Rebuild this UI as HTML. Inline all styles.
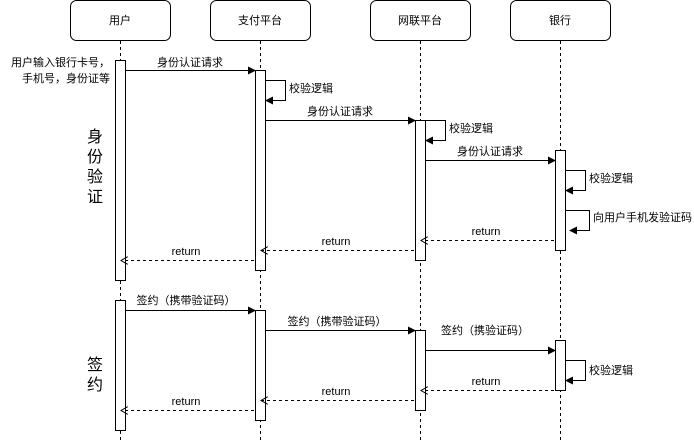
<!DOCTYPE html>
<html><head><meta charset="utf-8"><style>
html,body{margin:0;padding:0;background:#fff}
svg text{font-family:"Liberation Sans","Noto Sans CJK SC",sans-serif;font-size:11px;fill:#000}
</style></head><body>
<svg width="694" height="441" viewBox="0 0 694 441" xmlns="http://www.w3.org/2000/svg">
<defs>
<marker id="a" markerWidth="8" markerHeight="8" refX="7" refY="4" orient="auto" markerUnits="userSpaceOnUse"><path d="M0,0 L8,4 L0,8 Z" fill="#000"/></marker>
<marker id="o" markerWidth="8" markerHeight="8" refX="7" refY="4" orient="auto" markerUnits="userSpaceOnUse"><path d="M0,0 L7,4 L0,8" fill="none" stroke="#000"/></marker>
</defs>
<g fill="#fff" stroke="#000">
<rect x="70.5" y="0.5" width="100" height="40" rx="6"/>
<rect x="210.5" y="0.5" width="100" height="40" rx="6"/>
<rect x="370.5" y="0.5" width="100" height="40" rx="6"/>
<rect x="510.5" y="0.5" width="100" height="40" rx="6"/>
</g>
<text x="120" y="24" text-anchor="middle">用户</text>
<text x="260" y="24" text-anchor="middle">支付平台</text>
<text x="420" y="24" text-anchor="middle">网联平台</text>
<text x="560" y="24" text-anchor="middle">银行</text>
<g stroke="#000" stroke-dasharray="3,3">
<line x1="120.5" y1="41" x2="120.5" y2="441"/>
<line x1="260.5" y1="41" x2="260.5" y2="441"/>
<line x1="420.5" y1="41" x2="420.5" y2="441"/>
<line x1="560.5" y1="41" x2="560.5" y2="441"/>
</g>
<g fill="#fff" stroke="#000">
<rect x="115.5" y="60.5" width="10" height="220"/>
<rect x="115.5" y="300.5" width="10" height="130"/>
<rect x="255.5" y="70.5" width="10" height="200"/>
<rect x="255.5" y="310.5" width="10" height="110"/>
<rect x="415.5" y="120.5" width="10" height="140"/>
<rect x="415.5" y="330.5" width="10" height="80"/>
<rect x="555.5" y="150.5" width="10" height="100"/>
<rect x="555.5" y="340.5" width="10" height="50"/>
</g>
<g stroke="#000" fill="none" marker-end="url(#a)">
<line x1="126" y1="70.5" x2="255" y2="70.5"/>
<path d="M266,80.5 H285.5 V100.5 H266"/>
<line x1="266" y1="120.5" x2="415" y2="120.5"/>
<path d="M426,120.5 H445.5 V140.5 H426"/>
<line x1="426" y1="160.5" x2="555" y2="160.5"/>
<path d="M566,170.5 H585.5 V190.5 H566"/>
<path d="M566,210.5 H589.5 V230.5 H570"/>
<line x1="126" y1="310.5" x2="255" y2="310.5"/>
<line x1="266" y1="330.5" x2="415" y2="330.5"/>
<line x1="426" y1="350.5" x2="555" y2="350.5"/>
<path d="M566,360.5 H585.5 V380.5 H566"/>
</g>
<g stroke="#000" fill="none" stroke-dasharray="3,3" marker-end="url(#o)">
<line x1="554" y1="240.5" x2="421" y2="240.5"/>
<line x1="414" y1="250.5" x2="261" y2="250.5"/>
<line x1="254" y1="260.5" x2="121" y2="260.5"/>
<line x1="554" y1="390.5" x2="421" y2="390.5"/>
<line x1="414" y1="400.5" x2="261" y2="400.5"/>
<line x1="254" y1="410.5" x2="121" y2="410.5"/>
</g>
<text x="190" y="66" text-anchor="middle">身份认证请求</text>
<text x="289" y="92">校验逻辑</text>
<text x="340" y="115" text-anchor="middle">身份认证请求</text>
<text x="449" y="132">校验逻辑</text>
<text x="490" y="155" text-anchor="middle">身份认证请求</text>
<text x="589" y="182">校验逻辑</text>
<text x="593" y="221">向用户手机发验证码</text>
<text x="486" y="235" text-anchor="middle" font-size="10">return</text>
<text x="336" y="245" text-anchor="middle" font-size="10">return</text>
<text x="186" y="255" text-anchor="middle" font-size="10">return</text>
<text x="186" y="304" text-anchor="middle">签约（携带验证码）</text>
<text x="337" y="325" text-anchor="middle">签约（携带验证码）</text>
<text x="485" y="334" text-anchor="middle">签约（携验证码）</text>
<text x="589" y="374">校验逻辑</text>
<text x="486" y="385" text-anchor="middle" font-size="10">return</text>
<text x="336" y="395" text-anchor="middle" font-size="10">return</text>
<text x="186" y="405" text-anchor="middle" font-size="10">return</text>
<text x="110" y="66" text-anchor="end">用户输入银行卡号，</text>
<text x="110" y="82" text-anchor="end">手机号，身份证等</text>
<g style="font-size:16px">
<text x="95" y="142" text-anchor="middle" style="font-size:16px">身</text>
<text x="95" y="162" text-anchor="middle" style="font-size:16px">份</text>
<text x="95" y="182" text-anchor="middle" style="font-size:16px">验</text>
<text x="95" y="202" text-anchor="middle" style="font-size:16px">证</text>
<text x="95" y="370" text-anchor="middle" style="font-size:16px">签</text>
<text x="95" y="390" text-anchor="middle" style="font-size:16px">约</text>
</g>
</svg>
</body></html>
